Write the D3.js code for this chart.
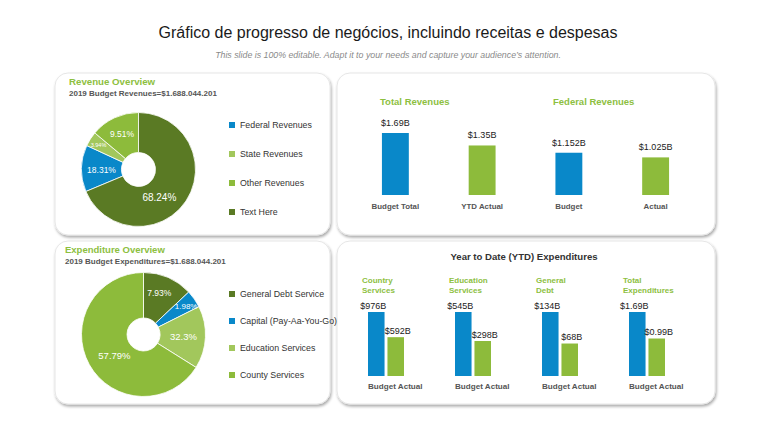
<!DOCTYPE html>
<html><head><meta charset="utf-8">
<script src="https://cdn.jsdelivr.net/npm/d3@7"></script>
<style>
html,body{margin:0;padding:0;background:#fff;}
svg{display:block;font-family:"Liberation Sans",Arial,sans-serif;}
</style></head>
<body><svg id="c" width="768" height="432"></svg>
<script>
// ---------- data ----------
// Revenue donut: slice sizes as drawn in the picture, and the printed labels
const revCategories = ["Federal Revenues","State Revenues","Other Revenues","Text Here"];
const revSliceShares = [13.2, 4.2, 13.9, 68.7];
const revLabels = ["18.31%","3.94%","9.51%","68.24%"];

// Expenditure donut
const expCategories = ["General Debt Service","Capital (Pay-Aa-You-Go)","Education Services","County Services"];
const expSliceShares = [13.0, 4.6, 16.3, 66.1];
const expLabels = ["7.93%","1.98%","32.3%","57.79%"];

// Revenue bars
const revBarCategories = ["Budget Total","YTD Actual","Budget","Actual"];
const revBarValues = [1.69, 1.35, 1.152, 1.025];
const revBarLabels = ["$1.69B","$1.35B","$1.152B","$1.025B"];
const revGroupTitles = ["Total Revenues","Federal Revenues"];

// YTD expenditures
const ytdGroups = [["Country","Services"],["Education","Services"],["General","Debt"],["Total","Expenditures"]];
const ytdSeries = ["Budget","Actual"];
const ytdBudget = [976, 545, 134, 1.69];
const ytdActual = [592, 298, 68, 0.99];
const ytdBudgetLabels = ["$976B","$545B","$134B","$1.69B"];
const ytdActualLabels = ["$592B","$298B","$68B","$0.99B"];

// ---------- style ----------
const BLUE="#0988c9", DGREEN="#5a7a24", LGREEN="#a2c75c", GREEN="#8dbb3b", TGREEN="#8dc03f";
const svg = d3.select("#c");
const defs = svg.append("defs");
const f = defs.append("filter").attr("id","sh").attr("x","-10%").attr("y","-10%").attr("width","120%").attr("height","120%");
f.append("feGaussianBlur").attr("in","SourceAlpha").attr("stdDeviation",1.6);
f.append("feOffset").attr("dx",1).attr("dy",1.5).attr("result","o");
f.append("feComponentTransfer").append("feFuncA").attr("type","linear").attr("slope",0.35);
const m=f.append("feMerge"); m.append("feMergeNode"); m.append("feMergeNode").attr("in","SourceGraphic");

// titles
svg.append("text").attr("x",388).attr("y",38).attr("text-anchor","middle")
  .attr("font-size",16).attr("fill","#1a1a1a").text("Gráfico de progresso de negócios, incluindo receitas e despesas");
svg.append("text").attr("x",388).attr("y",58).attr("text-anchor","middle")
  .attr("font-size",8.8).attr("font-style","italic").attr("fill","#8a8a8a")
  .text("This slide is 100% editable. Adapt it to your needs and capture your audience’s attention.");

// panels
const panels=[[55,73,275,162],[337,73,378,162],[55,241,275,163],[337,241,378,163]];
svg.selectAll("rect.panel").data(panels).join("rect").attr("class","panel")
  .attr("x",d=>d[0]).attr("y",d=>d[1]).attr("width",d=>d[2]).attr("height",d=>d[3])
  .attr("rx",13).attr("fill","#fff").attr("stroke","#e6e6e6").attr("stroke-width",1).attr("filter","url(#sh)");

// ---------- donut helper ----------
function donut(cx,cy,r0,r1,shares,labels,colors,start,labelR,labelPos,fs){
  const pie=d3.pie().sort(null).value(d=>d).startAngle(start).endAngle(start+2*Math.PI);
  const arcs=pie(shares);
  const arc=d3.arc().innerRadius(r0).outerRadius(r1);
  const g=svg.append("g").attr("transform",`translate(${cx},${cy})`);
  g.selectAll("path").data(arcs).join("path").attr("d",arc).attr("fill",(d,i)=>colors[i])
    .attr("stroke","#fff").attr("stroke-width",0.8);
  g.selectAll("text").data(arcs).join("text")
    .attr("transform",(d,i)=>{
      const a=d.startAngle+(d.endAngle-d.startAngle)*labelPos[i];
      return `translate(${labelR[i]*Math.sin(a)},${-labelR[i]*Math.cos(a)})`;})
    .attr("text-anchor","middle").attr("dy","0.35em").attr("fill","#fff")
    .attr("font-size",(d,i)=>fs[i]).text((d,i)=>labels[i]);
}
function legend(x,ys,cats,colors){
  const g=svg.append("g");
  g.selectAll("rect").data(cats).join("rect").attr("x",x).attr("y",(d,i)=>ys[i]-3).attr("width",6).attr("height",6).attr("fill",(d,i)=>colors[i]);
  g.selectAll("text").data(cats).join("text").attr("x",x+11).attr("y",(d,i)=>ys[i]).attr("dy","0.35em")
    .attr("font-size",8.8).attr("fill","#333").text(d=>d);
}

// Revenue overview
svg.append("text").attr("x",69).attr("y",85).attr("font-size",9.7).attr("font-weight","bold").attr("fill",TGREEN).text("Revenue Overview");
svg.append("text").attr("x",69).attr("y",96).attr("font-size",8).attr("font-weight","bold").attr("fill","#555").text("2019 Budget Revenues=$1.688.044.201");
const revColors=[BLUE,LGREEN,GREEN,DGREEN];
const revStart=(revSliceShares[3]/100)*2*Math.PI;
donut(138.5,169.5,17,57,revSliceShares,revLabels,revColors,revStart,[37,47,39,35],[0.45,0.45,0.5,0.58],[8.5,5.5,8.5,10]);
legend(229,[125,154,183,212],revCategories,revColors);

// Expenditure overview
svg.append("text").attr("x",65).attr("y",253).attr("font-size",9.5).attr("font-weight","bold").attr("fill",TGREEN).text("Expenditure Overview");
svg.append("text").attr("x",65).attr("y",264).attr("font-size",8).attr("font-weight","bold").attr("fill","#555").text("2019 Budget Expenditures=$1.688.044.201");
const expColors=[DGREEN,BLUE,LGREEN,GREEN];
donut(143.5,334.5,16.5,62,expSliceShares,expLabels,expColors,0,[44,51,40,36],[0.45,0.6,0.5,0.47],[8.5,8,9.5,9.5]);
legend(229,[294,321,348,375],expCategories,expColors);

// ---------- revenue bars ----------
const xRev=d3.scaleBand().domain(revBarCategories).range([352,699]).paddingInner(0.69).paddingOuter(0.345);
const yRev=d3.scaleLinear().domain([0,1.69]).range([195,133]);
const rg=svg.append("g");
const revBarColors=[BLUE,GREEN,BLUE,GREEN];
rg.selectAll("rect").data(revBarValues).join("rect")
  .attr("x",(d,i)=>xRev(revBarCategories[i])).attr("width",xRev.bandwidth())
  .attr("y",d=>yRev(d)).attr("height",d=>195-yRev(d)).attr("fill",(d,i)=>revBarColors[i]);
rg.selectAll("text.v").data(revBarValues).join("text").attr("class","v")
  .attr("x",(d,i)=>xRev(revBarCategories[i])+xRev.bandwidth()/2).attr("y",d=>yRev(d)-7)
  .attr("text-anchor","middle").attr("font-size",9).attr("fill","#222").text((d,i)=>revBarLabels[i]);
const xAxisRev=d3.axisBottom(xRev).tickSize(0).tickPadding(8);
const ax=rg.append("g").attr("transform","translate(0,195)").call(xAxisRev);
ax.select(".domain").remove();
ax.selectAll("text").attr("font-size",7.9).attr("font-weight","bold").attr("fill","#555").attr("font-family","Liberation Sans, Arial, sans-serif");
rg.selectAll("text.gt").data(revGroupTitles).join("text").attr("class","gt")
  .attr("x",(d,i)=>[380,553][i]).attr("y",104.5).attr("font-size",9.5).attr("font-weight","bold").attr("fill",TGREEN).text(d=>d);

// ---------- YTD expenditures ----------
svg.append("text").attr("x",524).attr("y",259.5).attr("text-anchor","middle").attr("font-size",9.6).attr("font-weight","bold").attr("fill","#333").text("Year to Date (YTD) Expenditures");
const xGroup=d3.scaleBand().domain(d3.range(ytdGroups.length)).range([368,716]).paddingInner(0);
const baseY=376, topY=312;
ytdGroups.forEach((g,i)=>{
  const gx=xGroup(i);
  const y=d3.scaleLinear().domain([0,ytdBudget[i]]).range([baseY,topY]);
  const xin=d3.scaleBand().domain(ytdSeries).range([gx,gx+36]).paddingInner(0.15);
  const gg=svg.append("g");
  const vals=[ytdBudget[i],ytdActual[i]], labs=[ytdBudgetLabels[i],ytdActualLabels[i]], cols=[BLUE,GREEN];
  gg.selectAll("rect").data(vals).join("rect")
    .attr("x",(d,j)=>xin(ytdSeries[j])).attr("width",xin.bandwidth())
    .attr("y",d=>y(d)).attr("height",d=>baseY-y(d)).attr("fill",(d,j)=>cols[j]);
  gg.selectAll("text.v").data(vals).join("text").attr("class","v")
    .attr("x",(d,j)=>xin(ytdSeries[j])+xin.bandwidth()/2-(j?-2:3)).attr("y",d=>y(d)-3.5)
    .attr("text-anchor","middle").attr("font-size",9).attr("fill","#222").text((d,j)=>labs[j]);
  gg.append("text").attr("x",gx).attr("y",389).attr("font-size",8.1).attr("font-weight","bold").attr("fill","#555").text(ytdSeries.join(" "));
  gg.selectAll("text.t").data(g).join("text").attr("class","t")
    .attr("x",gx-6).attr("y",(d,j)=>282.5+j*10).attr("font-size",8).attr("font-weight","bold").attr("fill",TGREEN).text(d=>d);
});
</script></body></html>
